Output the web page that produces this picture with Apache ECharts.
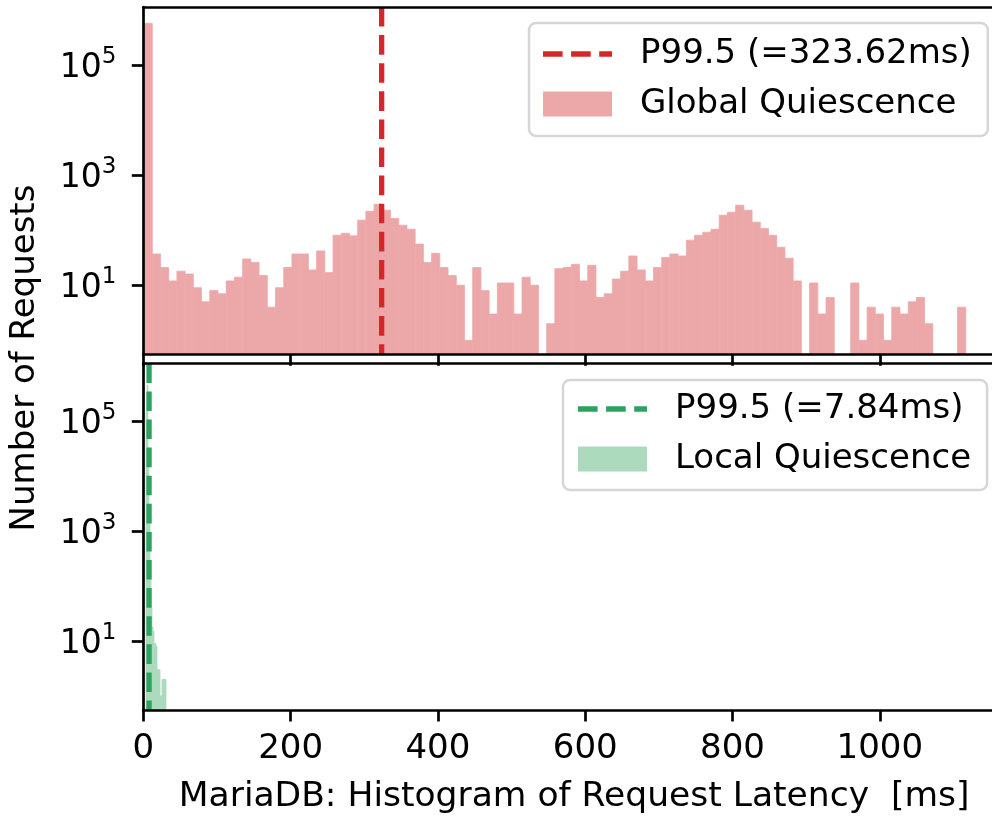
<!DOCTYPE html>
<html><head><meta charset="utf-8">
<script src="https://cdn.jsdelivr.net/npm/echarts@6/dist/echarts.min.js"></script>
<style>html,body{margin:0;padding:0;background:#fff}#c{width:992px;height:816px}</style>
</head><body><div id="c"></div>
<script>
// ---- data ----
const xTickValues = [0, 200, 400, 600, 800, 1000];
const yTickValues = [10, 1000, 100000];
const xAxisMax = 1152.3;
const yAxisMin = 0.5566;
const yAxisMax = 1.134e6;

// Global Quiescence: 100 equal-width bins between min and max latency (ms)
const globalBinMin = 1.0;
const globalBinMax = 1116.6;
const globalCounts = [
  573000, 37, 21, 12, 18, 16, 9, 5, 8, 7,
  12, 14, 30, 26, 15, 4, 9, 21, 37, 37,
  19, 42, 17, 81, 88, 79, 152, 221, 297, 231,
  163, 123, 104, 56, 26, 38, 21, 15, 10, 1,
  21, 8, 3, 11, 11, 3, 14, 10, 0, 2,
  20, 21, 24, 12, 23, 6, 7, 13, 18, 34,
  19, 12, 21, 32, 37, 34, 66, 81, 92, 104,
  187, 212, 285, 231, 140, 107, 81, 49, 31, 12,
  0, 11, 3, 6, 0, 0, 11, 1, 4, 3,
  1, 4, 3, 5, 6, 2, 0, 0, 0, 4
];
const globalP995 = 323.62;

// Local Quiescence: bin edges (ms) and counts
const localEdges = [3.7, 5.0, 6.4, 7.7, 9.1, 10.4, 11.8, 13.2, 14.5, 15.9, 17.2, 18.6, 19.9, 21.3, 22.7, 24.0, 25.4, 26.7, 28.0, 29.4, 30.8];
const localCounts = [150000, 450000, 30000, 2000, 150, 40, 18, 15, 9, 9, 8, 3, 3, 3, 1, 1, 2, 2, 2, 2];
const localP995 = 7.84;

const seriesNames = ['P99.5 (=323.62ms)', 'Global Quiescence', 'P99.5 (=7.84ms)', 'Local Quiescence'];
const xAxisTitle = 'MariaDB: Histogram of Request Latency  [ms]';
const yAxisTitle = 'Number of Requests';

// ---- build ----
const FONT = 'DejaVu Sans';
const RED = '#d62728', RED_FILL = '#eca8a9';
const GREEN = '#2ca25f', GREEN_FILL = '#acdabd';

const gw = (globalBinMax - globalBinMin) / globalCounts.length;
const globalData = [];
globalCounts.forEach((c, i) => { if (c > 0) globalData.push([globalBinMin + i * gw, globalBinMin + (i + 1) * gw, c]); });
const localData = [];
localCounts.forEach((c, i) => { if (c > 0) localData.push([localEdges[i], localEdges[i + 1], c]); });

function makeRender(fill) {
  return function (params, api) {
    const c = api.value(2);
    const p0 = api.coord([api.value(0), c]);
    const p1 = api.coord([api.value(1), yAxisMin]);
    return { type: 'rect', shape: { x: p0[0], y: p0[1], width: p1[0] - p0[0], height: p1[1] - p0[1] },
      style: { fill: fill, stroke: fill, lineWidth: 0.8 } };
  };
}

const dashIcon = 'path://M0,0h0.01v0.01h-0.01z M0,9.85h19.6v5.3H0z M28.1,9.85h19.6v5.3h-19.6z M56.2,9.85h12.8v5.3h-12.8z M68.99,24.99h0.01v0.01h-0.01z';

const grids = [
  { left: 143.3, top: 7, right: 0, height: 347.3 },
  { left: 143.3, top: 363.3, right: 0, height: 347.7 }
];

function xAxisBottom(gi, showLabels) {
  return {
    type: 'value', gridIndex: gi, min: 0, max: xAxisMax, position: 'bottom', z: 10,
    axisLine: { show: true, onZero: false, lineStyle: { color: '#000', width: 2.7 } },
    axisTick: { show: true, inside: false, length: 11.5, lineStyle: { color: '#000', width: 2.7 }, customValues: xTickValues },
    axisLabel: { show: showLabels, customValues: xTickValues, margin: 22, fontSize: 34, fontFamily: FONT, color: '#000',
      formatter: v => String(v) },
    splitLine: { show: false },
    name: showLabels ? xAxisTitle : '', nameLocation: 'middle', nameGap: 70,
    nameTextStyle: { fontSize: 34.5, fontFamily: FONT, color: '#000', padding: [0, 0, 0, 13] }
  };
}
function xAxisTop(gi) {
  return {
    type: 'value', gridIndex: gi, min: 0, max: xAxisMax, position: 'top', z: 10,
    axisLine: { show: true, onZero: false, lineStyle: { color: '#000', width: 2.7 } },
    axisTick: { show: false }, axisLabel: { show: false }, splitLine: { show: false }
  };
}
function yAxisLeft(gi) {
  return {
    type: 'log', gridIndex: gi, min: yAxisMin, max: yAxisMax, logBase: 10, z: 10,
    axisLine: { show: true, onZero: false, lineStyle: { color: '#000', width: 2.7 } },
    axisTick: { show: true, inside: false, length: 11.5, lineStyle: { color: '#000', width: 2.7 }, customValues: yTickValues },
    axisLabel: {
      show: true, customValues: yTickValues, margin: 27,
      formatter: v => '{b|10}{s|' + Math.round(Math.log10(v)) + '}',
      rich: {
        b: { fontSize: 33, fontFamily: FONT, color: '#000', lineHeight: 40, verticalAlign: 'bottom' },
        s: { fontSize: 23, fontFamily: FONT, color: '#000', lineHeight: 23, verticalAlign: 'top' }
      }
    },
    splitLine: { show: false }
  };
}

function legendCfg(gi, names, left, top, pad) {
  return {
    data: [{ name: names[0], icon: dashIcon }, { name: names[1], icon: 'rect' }],
    orient: 'vertical', left: left, top: top, itemWidth: 69, itemHeight: 25, itemGap: 10,
    symbolKeepAspect: false,
    padding: pad, borderColor: '#d6d6d6', borderWidth: 2.5, borderRadius: 7,
    backgroundColor: 'rgba(255,255,255,0.8)', selectedMode: false,
    textStyle: { fontSize: 34, fontFamily: FONT, color: '#000', lineHeight: 40, padding: [0, 0, 0, 23] }
  };
}

const option = {
  animation: false,
  backgroundColor: '#fff',
  grid: grids,
  xAxis: [xAxisBottom(0, false), xAxisBottom(1, true), xAxisTop(0), xAxisTop(1)],
  yAxis: [yAxisLeft(0), yAxisLeft(1)],
  legend: [
    legendCfg(0, [seriesNames[0], seriesNames[1]], 529, 23, [11, 16, 12, 14]),
    legendCfg(1, [seriesNames[2], seriesNames[3]], 563, 380, [9, 16, 11, 15])
  ],
  graphic: [{
    type: 'text', x: 25, y: 358, rotation: Math.PI / 2,
    style: { text: yAxisTitle, fontSize: 34, fontFamily: FONT, fill: '#000', align: 'center', verticalAlign: 'middle' }
  }],
  series: [
    { name: seriesNames[1], type: 'custom', xAxisIndex: 0, yAxisIndex: 0, clip: true, z: 2,
      itemStyle: { color: RED_FILL }, encode: { x: [0, 1], y: 2 }, data: globalData, renderItem: makeRender(RED_FILL), silent: true },
    { name: seriesNames[0], type: 'line', xAxisIndex: 0, yAxisIndex: 0, z: 5, symbol: 'none', silent: true,
      itemStyle: { color: RED }, lineStyle: { color: RED, width: 5.3, type: [19.6, 8.5] },
      data: [[globalP995, yAxisMax], [globalP995, yAxisMin]] },
    { name: seriesNames[3], type: 'custom', xAxisIndex: 1, yAxisIndex: 1, clip: true, z: 2,
      itemStyle: { color: GREEN_FILL }, encode: { x: [0, 1], y: 2 }, data: localData, renderItem: makeRender(GREEN_FILL), silent: true },
    { name: seriesNames[2], type: 'line', xAxisIndex: 1, yAxisIndex: 1, z: 5, symbol: 'none', silent: true,
      itemStyle: { color: GREEN }, lineStyle: { color: GREEN, width: 5.3, type: [19.6, 8.5] },
      data: [[localP995, yAxisMax], [localP995, yAxisMin]] }
  ]
};

const chart = echarts.init(document.getElementById('c'), null, { renderer: 'canvas' });
chart.setOption(option);
</script>
</body></html>
